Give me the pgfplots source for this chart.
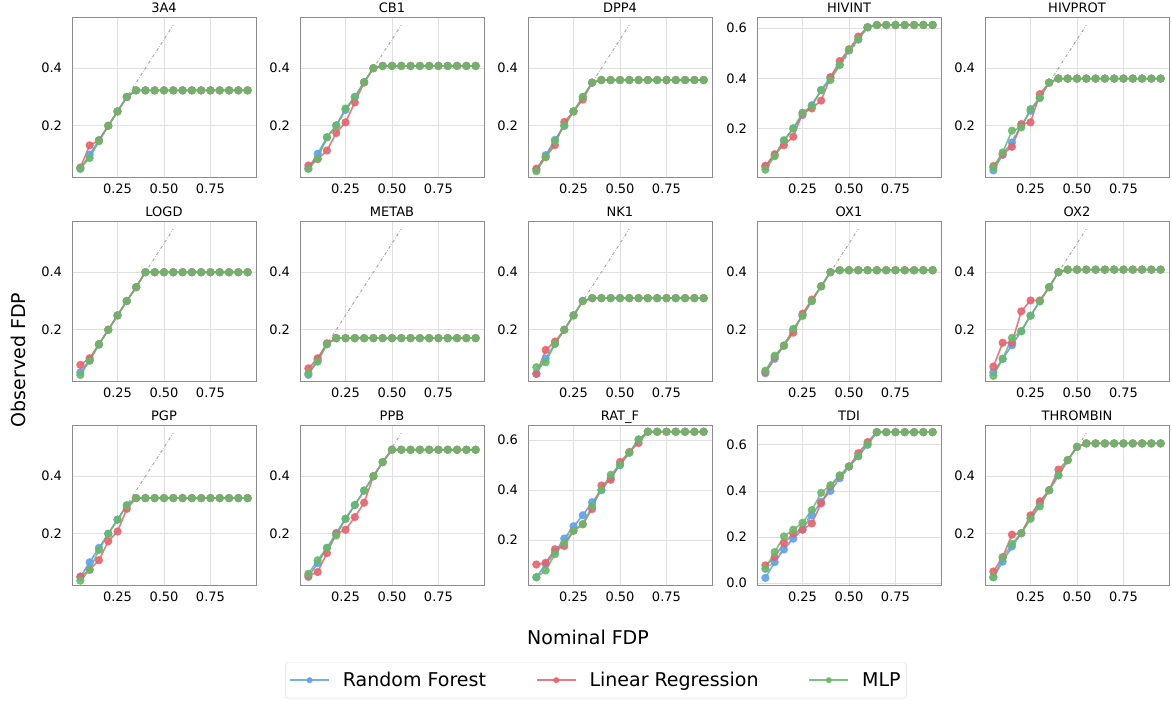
\documentclass[border=0pt]{standalone}
\usepackage{fontspec}
\setmainfont{DejaVu Sans}
\usepackage{pgfplots}
\usepackage{pgfplotstable}
\pgfplotsset{compat=1.18}

\definecolor{rfblue}{RGB}{94,163,235}
\definecolor{lrred}{RGB}{232,98,108}
\definecolor{mlpgreen}{RGB}{104,185,104}
\definecolor{framegray}{RGB}{140,140,140}
\definecolor{gridgray}{RGB}{224,224,224}
\definecolor{diaggray}{RGB}{160,160,160}

% x rf lr mlp
\pgfplotstableread{
x rf lr mlp
0.05 0.050 0.055 0.053
0.10 0.100 0.132 0.088
0.15 0.150 0.149 0.146
0.20 0.200 0.200 0.200
0.25 0.250 0.250 0.250
0.30 0.300 0.300 0.300
0.35 0.323 0.323 0.323
0.40 0.323 0.323 0.323
0.45 0.323 0.323 0.323
0.50 0.323 0.323 0.323
0.55 0.323 0.323 0.323
0.60 0.323 0.323 0.323
0.65 0.323 0.323 0.323
0.70 0.323 0.323 0.323
0.75 0.323 0.323 0.323
0.80 0.323 0.323 0.323
0.85 0.323 0.323 0.323
0.90 0.323 0.323 0.323
0.95 0.323 0.323 0.323
}\tThreeAFour

\pgfplotstableread{
x rf lr mlp
0.05 0.052 0.062 0.050
0.10 0.103 0.084 0.086
0.15 0.160 0.114 0.160
0.20 0.202 0.175 0.200
0.25 0.255 0.212 0.260
0.30 0.300 0.281 0.300
0.35 0.352 0.350 0.352
0.40 0.400 0.400 0.400
0.45 0.408 0.408 0.408
0.50 0.408 0.408 0.408
0.55 0.408 0.408 0.408
0.60 0.408 0.408 0.408
0.65 0.408 0.408 0.408
0.70 0.408 0.408 0.408
0.75 0.408 0.408 0.408
0.80 0.408 0.408 0.408
0.85 0.408 0.408 0.408
0.90 0.408 0.408 0.408
0.95 0.408 0.408 0.408
}\tCBOne

\pgfplotstableread{
x rf lr mlp
0.05 0.048 0.051 0.042
0.10 0.098 0.091 0.091
0.15 0.151 0.133 0.147
0.20 0.200 0.213 0.200
0.25 0.250 0.250 0.250
0.30 0.300 0.291 0.300
0.35 0.350 0.350 0.350
0.40 0.359 0.359 0.359
0.45 0.359 0.359 0.359
0.50 0.359 0.359 0.359
0.55 0.359 0.359 0.359
0.60 0.359 0.359 0.359
0.65 0.359 0.359 0.359
0.70 0.359 0.359 0.359
0.75 0.359 0.359 0.359
0.80 0.359 0.359 0.359
0.85 0.359 0.359 0.359
0.90 0.359 0.359 0.359
0.95 0.359 0.359 0.359
}\tDPPFour

\pgfplotstableread{
x rf lr mlp
0.05 0.047 0.051 0.035
0.10 0.093 0.097 0.089
0.15 0.150 0.133 0.153
0.20 0.200 0.167 0.200
0.25 0.253 0.260 0.263
0.30 0.293 0.280 0.289
0.35 0.353 0.311 0.353
0.40 0.404 0.404 0.393
0.45 0.455 0.469 0.453
0.50 0.511 0.516 0.513
0.55 0.555 0.567 0.556
0.60 0.604 0.604 0.604
0.65 0.613 0.613 0.613
0.70 0.613 0.613 0.613
0.75 0.613 0.613 0.613
0.80 0.613 0.613 0.613
0.85 0.613 0.613 0.613
0.90 0.613 0.613 0.613
0.95 0.613 0.613 0.613
}\tHIVINT

\pgfplotstableread{
x rf lr mlp
0.05 0.045 0.060 0.055
0.10 0.099 0.101 0.107
0.15 0.142 0.127 0.183
0.20 0.200 0.206 0.194
0.25 0.252 0.212 0.258
0.30 0.296 0.310 0.298
0.35 0.350 0.350 0.350
0.40 0.364 0.364 0.364
0.45 0.364 0.364 0.364
0.50 0.364 0.364 0.364
0.55 0.364 0.364 0.364
0.60 0.364 0.364 0.364
0.65 0.364 0.364 0.364
0.70 0.364 0.364 0.364
0.75 0.364 0.364 0.364
0.80 0.364 0.364 0.364
0.85 0.364 0.364 0.364
0.90 0.364 0.364 0.364
0.95 0.364 0.364 0.364
}\tHIVPROT

\pgfplotstableread{
x rf lr mlp
0.05 0.052 0.078 0.043
0.10 0.095 0.101 0.092
0.15 0.148 0.150 0.150
0.20 0.200 0.200 0.200
0.25 0.250 0.250 0.250
0.30 0.300 0.300 0.300
0.35 0.348 0.348 0.348
0.40 0.400 0.400 0.400
0.45 0.400 0.400 0.400
0.50 0.400 0.400 0.400
0.55 0.400 0.400 0.400
0.60 0.400 0.400 0.400
0.65 0.400 0.400 0.400
0.70 0.400 0.400 0.400
0.75 0.400 0.400 0.400
0.80 0.400 0.400 0.400
0.85 0.400 0.400 0.400
0.90 0.400 0.400 0.400
0.95 0.400 0.400 0.400
}\tLOGD

\pgfplotstableread{
x rf lr mlp
0.05 0.043 0.066 0.049
0.10 0.095 0.101 0.089
0.15 0.150 0.153 0.150
0.20 0.171 0.171 0.171
0.25 0.171 0.171 0.171
0.30 0.171 0.171 0.171
0.35 0.171 0.171 0.171
0.40 0.171 0.171 0.171
0.45 0.171 0.171 0.171
0.50 0.171 0.171 0.171
0.55 0.171 0.171 0.171
0.60 0.171 0.171 0.171
0.65 0.171 0.171 0.171
0.70 0.171 0.171 0.171
0.75 0.171 0.171 0.171
0.80 0.171 0.171 0.171
0.85 0.171 0.171 0.171
0.90 0.171 0.171 0.171
0.95 0.171 0.171 0.171
}\tMETAB

\pgfplotstableread{
x rf lr mlp
0.05 0.047 0.047 0.070
0.10 0.100 0.130 0.087
0.15 0.151 0.159 0.151
0.20 0.200 0.200 0.200
0.25 0.250 0.250 0.250
0.30 0.300 0.300 0.300
0.35 0.310 0.310 0.310
0.40 0.310 0.310 0.310
0.45 0.310 0.310 0.310
0.50 0.310 0.310 0.310
0.55 0.310 0.310 0.310
0.60 0.310 0.310 0.310
0.65 0.310 0.310 0.310
0.70 0.310 0.310 0.310
0.75 0.310 0.310 0.310
0.80 0.310 0.310 0.310
0.85 0.310 0.310 0.310
0.90 0.310 0.310 0.310
0.95 0.310 0.310 0.310
}\tNKOne

\pgfplotstableread{
x rf lr mlp
0.05 0.049 0.053 0.058
0.10 0.099 0.105 0.110
0.15 0.145 0.145 0.145
0.20 0.200 0.190 0.203
0.25 0.250 0.256 0.248
0.30 0.300 0.305 0.300
0.35 0.351 0.351 0.351
0.40 0.400 0.400 0.400
0.45 0.407 0.407 0.407
0.50 0.407 0.407 0.407
0.55 0.407 0.407 0.407
0.60 0.407 0.407 0.407
0.65 0.407 0.407 0.407
0.70 0.407 0.407 0.407
0.75 0.407 0.407 0.407
0.80 0.407 0.407 0.407
0.85 0.407 0.407 0.407
0.90 0.407 0.407 0.407
0.95 0.407 0.407 0.407
}\tOXOne

\pgfplotstableread{
x rf lr mlp
0.05 0.052 0.072 0.040
0.10 0.099 0.155 0.099
0.15 0.146 0.155 0.172
0.20 0.195 0.264 0.195
0.25 0.249 0.302 0.249
0.30 0.299 0.302 0.299
0.35 0.348 0.348 0.348
0.40 0.400 0.400 0.400
0.45 0.409 0.409 0.409
0.50 0.409 0.409 0.409
0.55 0.409 0.409 0.409
0.60 0.409 0.409 0.409
0.65 0.409 0.409 0.409
0.70 0.409 0.409 0.409
0.75 0.409 0.409 0.409
0.80 0.409 0.409 0.409
0.85 0.409 0.409 0.409
0.90 0.409 0.409 0.409
0.95 0.409 0.409 0.409
}\tOXTwo

\pgfplotstableread{
x rf lr mlp
0.05 0.050 0.051 0.037
0.10 0.101 0.075 0.075
0.15 0.151 0.108 0.144
0.20 0.200 0.174 0.200
0.25 0.249 0.208 0.249
0.30 0.299 0.287 0.299
0.35 0.324 0.324 0.324
0.40 0.324 0.324 0.324
0.45 0.324 0.324 0.324
0.50 0.324 0.324 0.324
0.55 0.324 0.324 0.324
0.60 0.324 0.324 0.324
0.65 0.324 0.324 0.324
0.70 0.324 0.324 0.324
0.75 0.324 0.324 0.324
0.80 0.324 0.324 0.324
0.85 0.324 0.324 0.324
0.90 0.324 0.324 0.324
0.95 0.324 0.324 0.324
}\tPGP

\pgfplotstableread{
x rf lr mlp
0.05 0.050 0.054 0.061
0.10 0.098 0.067 0.108
0.15 0.151 0.133 0.151
0.20 0.203 0.200 0.194
0.25 0.252 0.214 0.252
0.30 0.300 0.258 0.300
0.35 0.350 0.308 0.350
0.40 0.400 0.400 0.400
0.45 0.449 0.449 0.449
0.50 0.492 0.492 0.492
0.55 0.492 0.492 0.492
0.60 0.492 0.492 0.492
0.65 0.492 0.492 0.492
0.70 0.492 0.492 0.492
0.75 0.492 0.492 0.492
0.80 0.492 0.492 0.492
0.85 0.492 0.492 0.492
0.90 0.492 0.492 0.492
0.95 0.492 0.492 0.492
}\tPPB

\pgfplotstableread{
x rf lr mlp
0.05 0.052 0.103 0.052
0.10 0.105 0.110 0.079
0.15 0.153 0.164 0.144
0.20 0.207 0.177 0.190
0.25 0.256 0.238 0.238
0.30 0.300 0.264 0.264
0.35 0.352 0.325 0.337
0.40 0.400 0.419 0.402
0.45 0.450 0.442 0.462
0.50 0.500 0.513 0.502
0.55 0.550 0.553 0.550
0.60 0.603 0.589 0.603
0.65 0.634 0.634 0.634
0.70 0.634 0.634 0.634
0.75 0.634 0.634 0.634
0.80 0.634 0.634 0.634
0.85 0.634 0.634 0.634
0.90 0.634 0.634 0.634
0.95 0.634 0.634 0.634
}\tRATF

\pgfplotstableread{
x rf lr mlp
0.05 0.023 0.077 0.062
0.10 0.091 0.113 0.135
0.15 0.146 0.174 0.203
0.20 0.193 0.215 0.232
0.25 0.232 0.232 0.262
0.30 0.295 0.259 0.317
0.35 0.353 0.346 0.392
0.40 0.400 0.420 0.425
0.45 0.455 0.465 0.468
0.50 0.506 0.506 0.506
0.55 0.550 0.564 0.552
0.60 0.600 0.612 0.603
0.65 0.655 0.655 0.655
0.70 0.655 0.655 0.655
0.75 0.655 0.655 0.655
0.80 0.655 0.655 0.655
0.85 0.655 0.655 0.655
0.90 0.655 0.655 0.655
0.95 0.655 0.655 0.655
}\tTDI

\pgfplotstableread{
x rf lr mlp
0.05 0.049 0.069 0.049
0.10 0.103 0.119 0.116
0.15 0.156 0.197 0.165
0.20 0.202 0.202 0.202
0.25 0.255 0.264 0.252
0.30 0.305 0.313 0.295
0.35 0.351 0.351 0.351
0.40 0.403 0.423 0.403
0.45 0.456 0.456 0.456
0.50 0.502 0.502 0.502
0.55 0.514 0.514 0.514
0.60 0.514 0.514 0.514
0.65 0.514 0.514 0.514
0.70 0.514 0.514 0.514
0.75 0.514 0.514 0.514
0.80 0.514 0.514 0.514
0.85 0.514 0.514 0.514
0.90 0.514 0.514 0.514
0.95 0.514 0.514 0.514
}\tTHROMBIN

\pgfplotsset{
  panel/.style={
    scale only axis, width=184pt, height=160pt, anchor=south west,
    xmin=0.005, xmax=0.995,
    xtick={0.25,0.5,0.75},
    grid=major,
    major grid style={gridgray, line width=0.8pt},
    axis line style={framegray, line width=0.9pt},
    major tick length=0pt,
    /pgf/number format/assume math mode=true,
    ticklabel style={font=\fontsize{13}{15}\selectfont},
    xticklabel style={/pgf/number format/.cd, fixed, fixed zerofill, precision=2},
    yticklabel style={/pgf/number format/.cd, fixed, fixed zerofill, precision=1},
    xticklabel shift=3.5pt,
    yticklabel shift=6.5pt,
    every axis title shift=0pt,
    title style={font=\fontsize{13}{15}\selectfont, at={(0.5,1)}, anchor=base, yshift=4pt},
  },
  diag/.style={diaggray, dash dot, line width=0.9pt},
  ser/.style={line width=1.6pt, mark=*, mark size=3.3pt, draw opacity=0.85, fill opacity=0.85},
  rf/.style={ser, color=rfblue},
  lr/.style={ser, color=lrred},
  mlp/.style={ser, color=mlpgreen},
}

% #1 x, #2 y, #3 title, #4 table, #5 ymin, #6 ymax, #7 y ticks
\newcommand{\panel}[7]{%
  \begin{axis}[panel, at={(#1pt,#2pt)}, title={#3}, ymin=#5, ymax=#6, ytick={#7}]
    \addplot[diag] coordinates {(0.05,0.05) (0.55,0.55)};
    \addplot[rf] table[x=x, y=rf] {#4};
    \addplot[lr] table[x=x, y=lr] {#4};
    \addplot[mlp] table[x=x, y=mlp] {#4};
  \end{axis}}

\begin{document}
\begin{tikzpicture}
  % row 1
  \panel{72}{524}{3A4}{\tThreeAFour}{0.022}{0.578}{0.2,0.4}
  \panel{300}{524}{CB1}{\tCBOne}{0.022}{0.578}{0.2,0.4}
  \panel{528}{524}{DPP4}{\tDPPFour}{0.022}{0.578}{0.2,0.4}
  \panel{757}{524}{HIVINT}{\tHIVINT}{0.006}{0.645}{0.2,0.4,0.6}
  \panel{985}{524}{HIVPROT}{\tHIVPROT}{0.022}{0.578}{0.2,0.4}
  % row 2
  \panel{72}{320}{LOGD}{\tLOGD}{0.022}{0.578}{0.2,0.4}
  \panel{300}{320}{METAB}{\tMETAB}{0.022}{0.578}{0.2,0.4}
  \panel{528}{320}{NK1}{\tNKOne}{0.022}{0.578}{0.2,0.4}
  \panel{757}{320}{OX1}{\tOXOne}{0.022}{0.578}{0.2,0.4}
  \panel{985}{320}{OX2}{\tOXTwo}{0.022}{0.578}{0.2,0.4}
  % row 3
  \panel{72}{116}{PGP}{\tPGP}{0.022}{0.578}{0.2,0.4}
  \panel{300}{116}{PPB}{\tPPB}{0.022}{0.578}{0.2,0.4}
  \panel{528}{116}{RAT\_F}{\tRATF}{0.021}{0.661}{0.2,0.4,0.6}
  \panel{757}{116}{TDI}{\tTDI}{-0.008}{0.686}{0.0,0.2,0.4,0.6}
  \panel{985}{116}{THROMBIN}{\tTHROMBIN}{0.022}{0.578}{0.2,0.4}

  % legend holder
  \begin{axis}[
    hide axis, scale only axis, width=1172pt, height=701pt,
    at={(0pt,0pt)}, anchor=south west,
    xmin=0, xmax=1, ymin=0, ymax=1,
    legend columns=3,
    legend style={at={(0.5085,0.0556)}, anchor=north, draw=gray!30,
      rounded corners=3pt, font=\fontsize{19}{23}\selectfont,
      inner xsep=4pt, inner ysep=8pt,
      /tikz/every odd column/.append style={column sep=11pt},
      /tikz/every even column/.append style={column sep=48pt}},
    legend image code/.code={%
      \draw[mark repeat=2, mark phase=2, mark size=2.2pt]
        plot coordinates {(0pt,0pt) (19.5pt,0pt) (39pt,0pt)};},
  ]
    \addlegendimage{rf}
    \addlegendentry{Random Forest}
    \addlegendimage{lr}
    \addlegendentry{Linear Regression}
    \addlegendimage{mlp}
    \addlegendentry{MLP}
  \end{axis}

  \node[font=\fontsize{19}{23}\selectfont] at (588pt,64pt) {Nominal FDP};
  \node[font=\fontsize{19}{23}\selectfont, rotate=90] at (18pt,341pt) {Observed FDP};

  \pgfresetboundingbox
  \path[use as bounding box] (0,0) rectangle (1172pt,701pt);
\end{tikzpicture}
\end{document}
